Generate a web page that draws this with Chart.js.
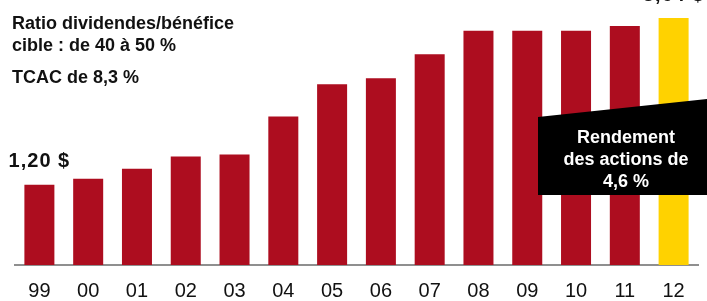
<!DOCTYPE html>
<html>
<head>
<meta charset="utf-8">
<script src="https://cdn.jsdelivr.net/npm/chart.js@4.4.1/dist/chart.umd.min.js"></script>
<style>
  body { margin: 0; background: #fff; }
  #wrap { width: 707px; height: 301px; position: relative; }
</style>
</head>
<body>
<div id="wrap"><canvas id="dividendChart"></canvas></div>
<script>
// years (fiscal), dividend per share in $
var years = ['99', '00', '01', '02', '03', '04', '05', '06', '07', '08', '09', '10', '11', '12'];
var dividends = [1.20, 1.29, 1.44, 1.62, 1.65, 2.22, 2.70, 2.79, 3.15, 3.50, 3.50, 3.50, 3.57, 3.69];
var valueLabels = ['1,20 $', '', '', '', '', '', '', '', '', '', '', '', '', '3,64 $'];
var barColors = ['#ad0d1f', '#ad0d1f', '#ad0d1f', '#ad0d1f', '#ad0d1f', '#ad0d1f', '#ad0d1f',
                 '#ad0d1f', '#ad0d1f', '#ad0d1f', '#ad0d1f', '#ad0d1f', '#ad0d1f', '#ffd200'];
var noteLines = ['Ratio dividendes/bénéfice', 'cible : de 40 à 50 %'];
var cagrText = 'TCAC de 8,3 %';
var yieldLines = ['Rendement', 'des actions de', '4,6 %'];

var FONT = '"Liberation Sans", Arial, sans-serif';

// texts, labels and the black callout
var overlayPlugin = {
    id: 'overlay',
    afterDatasetsDraw: function(chart) {
        var ctx = chart.ctx;
        var meta = chart.getDatasetMeta(0);
        ctx.save();

        // value labels above first and last bar
        ctx.fillStyle = '#111';
        ctx.font = 'bold 20px ' + FONT;
        ctx.letterSpacing = '1px';
        ctx.textAlign = 'center';
        ctx.textBaseline = 'middle';
        for (var i = 0; i < meta.data.length; i++) {
            if (valueLabels[i]) {
                var bar = meta.data[i];
                ctx.fillText(valueLabels[i], bar.x, bar.y - 23);
            }
        }
        ctx.letterSpacing = '0px';

        // notes top left
        ctx.textAlign = 'left';
        ctx.textBaseline = 'alphabetic';
        ctx.font = 'bold 18px ' + FONT;
        ctx.fillText(noteLines[0], 12, 29);
        ctx.fillText(noteLines[1], 12, 51);
        ctx.fillText(cagrText, 12, 83);

        // black callout box with slanted top
        var w = chart.width;
        ctx.fillStyle = '#000';
        ctx.beginPath();
        ctx.moveTo(538, 117);
        ctx.lineTo(w, 99);
        ctx.lineTo(w, 195);
        ctx.lineTo(538, 195);
        ctx.closePath();
        ctx.fill();

        ctx.fillStyle = '#fff';
        ctx.textAlign = 'center';
        ctx.font = 'bold 18px ' + FONT;
        ctx.textBaseline = 'alphabetic';
        ctx.fillText(yieldLines[0], 626, 143);
        ctx.fillText(yieldLines[1], 626, 165);
        ctx.fillText(yieldLines[2], 626, 187);

        ctx.restore();
    }
};

var ctx = document.getElementById('dividendChart').getContext('2d');
window.dividendChart = new Chart(ctx, {
    type: 'bar',
    data: {
        labels: years,
        datasets: [{
            data: dividends,
            backgroundColor: barColors,
            borderWidth: 0,
            categoryPercentage: 1.0,
            barPercentage: 0.615
        }]
    },
    options: {
        responsive: true,
        maintainAspectRatio: false,
        animation: false,
        layout: {
            padding: { left: 15, right: 9, top: 0, bottom: -16 }
        },
        plugins: {
            legend: { display: false },
            tooltip: { enabled: false }
        },
        scales: {
            x: {
                grid: { display: false, drawTicks: false },
                border: { display: true, color: '#8f8f8f', width: 2 },
                ticks: {
                    color: '#111',
                    padding: 14,
                    font: { family: FONT, size: 20 }
                }
            },
            y: {
                display: false,
                min: 0,
                max: 3.96
            }
        }
    },
    plugins: [overlayPlugin]
});
</script>
</body>
</html>
